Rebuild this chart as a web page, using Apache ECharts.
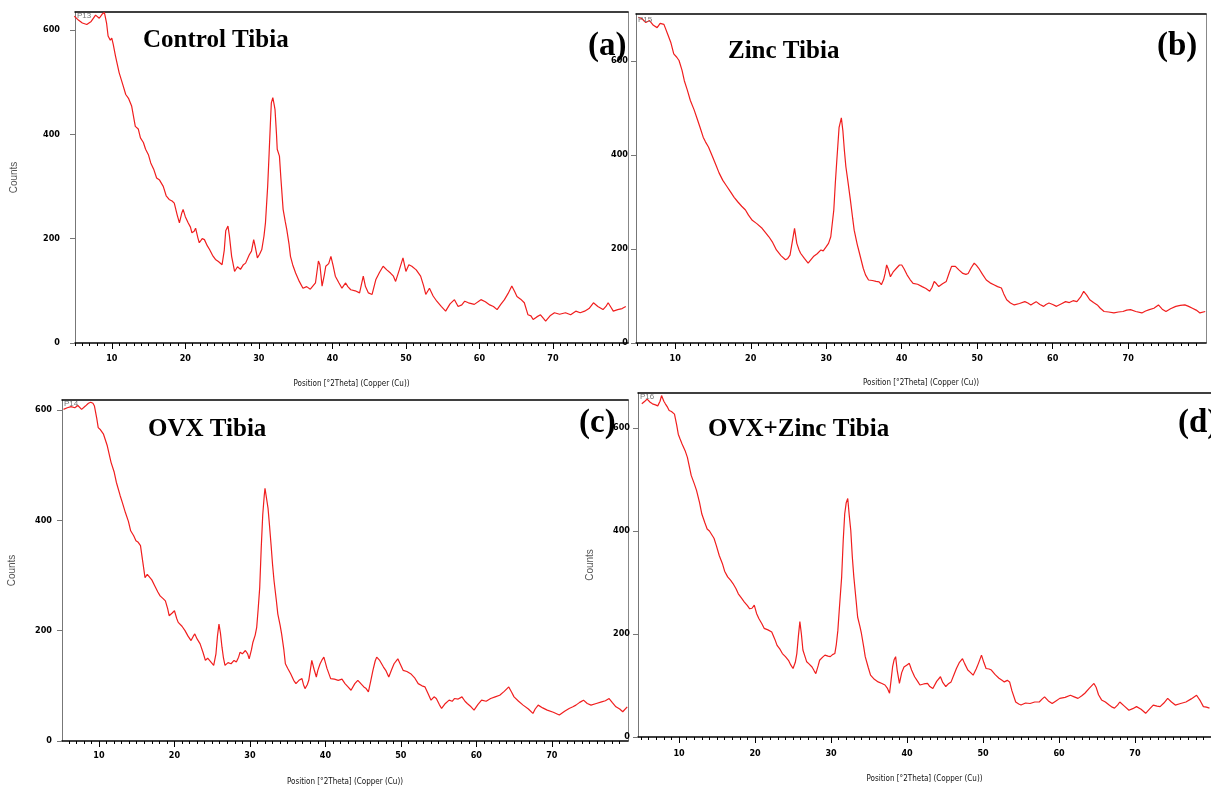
<!DOCTYPE html>
<html>
<head>
<meta charset="utf-8">
<script src="https://cdn.jsdelivr.net/npm/echarts@6.0.0/dist/echarts.min.js"></script>
<style>
html,body{margin:0;padding:0;background:#fff;}
#chart{width:1211px;height:787px;}
</style>
</head>
<body>
<div id="chart"></div>
<script>
// ---- Data (2Theta position, counts) ----
const controlTibia = [[4.9,626],[5.5,618],[6.0,613],[6.6,610],[7.2,616],[7.8,628],[8.3,622],[8.7,630],[9.0,633],[9.3,612],[9.5,588],[9.8,580],[10.0,584],[10.2,572],[10.5,550],[11.0,518],[11.5,495],[11.9,476],[12.3,468],[12.7,454],[13.2,415],[13.6,410],[13.9,393],[14.3,384],[14.6,371],[15.0,360],[15.3,345],[15.7,333],[16.1,316],[16.5,312],[17.0,300],[17.4,282],[17.8,275],[18.2,272],[18.5,268],[18.9,245],[19.2,230],[19.5,248],[19.7,256],[20.0,242],[20.4,230],[20.7,222],[20.9,211],[21.2,214],[21.4,220],[21.7,202],[21.9,192],[22.3,200],[22.6,198],[23.0,186],[23.3,179],[23.7,168],[24.1,160],[24.5,156],[25.0,150],[25.3,178],[25.5,215],[25.8,224],[26.0,205],[26.3,166],[26.7,137],[27.1,146],[27.5,141],[27.9,150],[28.2,153],[28.7,169],[29.0,176],[29.3,198],[29.5,185],[29.8,163],[30.1,170],[30.4,179],[30.7,205],[30.9,230],[31.2,300],[31.4,364],[31.6,430],[31.7,460],[31.9,470],[32.1,455],[32.2,447],[32.4,400],[32.5,371],[32.8,358],[33.0,315],[33.3,256],[33.6,232],[33.8,217],[34.1,190],[34.3,166],[34.6,150],[35.0,134],[35.5,118],[36.0,105],[36.5,108],[37.0,103],[37.2,105],[37.7,115],[38.1,157],[38.3,150],[38.6,109],[38.9,130],[39.1,147],[39.5,152],[39.8,166],[40.1,148],[40.4,128],[40.9,115],[41.3,105],[41.8,115],[42.1,108],[42.5,102],[43.1,100],[43.7,96],[44.2,128],[44.5,108],[44.9,96],[45.4,93],[45.9,121],[46.4,135],[46.9,147],[47.4,140],[47.9,134],[48.3,128],[48.6,118],[49.1,140],[49.6,163],[50.0,137],[50.4,150],[50.8,147],[51.4,140],[52.0,128],[52.4,110],[52.7,93],[53.2,105],[53.7,90],[54.2,80],[54.8,70],[55.4,61],[56.0,75],[56.6,83],[57.1,70],[57.6,73],[58.0,80],[58.5,77],[59.3,74],[60.2,83],[60.8,79],[61.4,73],[61.9,70],[62.4,64],[62.9,74],[63.4,83],[63.9,95],[64.4,109],[64.8,98],[65.1,89],[65.6,84],[66.1,77],[66.6,54],[67.0,52],[67.3,45],[67.8,50],[68.3,54],[68.7,47],[69.0,42],[69.6,52],[70.2,58],[70.9,55],[71.7,58],[72.4,54],[73.1,61],[73.7,58],[74.3,61],[74.9,66],[75.5,77],[76.1,70],[76.8,64],[77.2,70],[77.5,77],[77.9,68],[78.2,61],[78.8,64],[79.4,66],[79.9,70]];

const zincTibia = [[5.1,693],[5.6,690],[6.1,682],[6.6,686],[7.1,676],[7.6,671],[8.0,680],[8.5,678],[9.0,657],[9.4,640],[9.8,615],[10.2,608],[10.5,601],[10.9,580],[11.2,558],[11.6,538],[12.0,516],[12.5,496],[12.9,477],[13.3,458],[13.7,438],[14.0,428],[14.4,417],[14.9,398],[15.4,378],[15.8,362],[16.3,346],[16.8,334],[17.3,322],[17.8,310],[18.3,300],[18.8,291],[19.3,283],[19.7,272],[20.2,261],[20.8,254],[21.5,244],[21.9,236],[22.4,226],[22.9,214],[23.4,198],[24.0,186],[24.6,177],[24.9,180],[25.2,187],[25.5,215],[25.8,244],[26.1,212],[26.4,198],[26.6,191],[27.1,180],[27.6,170],[28.0,178],[28.3,184],[28.8,190],[29.3,198],[29.6,196],[30.0,205],[30.3,212],[30.6,226],[31.0,283],[31.2,340],[31.4,389],[31.7,459],[32.0,479],[32.2,452],[32.4,410],[32.6,375],[32.9,340],[33.2,304],[33.5,265],[33.7,240],[34.1,210],[34.4,191],[34.9,159],[35.2,145],[35.6,134],[36.1,133],[36.6,131],[37.0,130],[37.3,124],[37.6,135],[37.8,148],[38.0,166],[38.2,158],[38.5,141],[38.9,152],[39.3,159],[39.7,166],[40.0,166],[40.3,158],[40.7,145],[41.1,135],[41.5,127],[42.1,125],[42.7,120],[43.2,116],[43.7,110],[44.0,118],[44.3,131],[44.6,126],[44.9,120],[45.4,126],[45.9,131],[46.3,150],[46.6,163],[47.1,163],[47.6,155],[48.1,148],[48.5,146],[48.8,148],[49.2,160],[49.6,170],[49.9,165],[50.2,159],[50.7,146],[51.2,134],[51.7,128],[52.2,124],[52.7,120],[53.2,117],[53.5,105],[53.9,92],[54.4,85],[54.9,81],[55.6,84],[56.3,88],[56.7,85],[57.1,81],[57.4,84],[57.8,88],[58.3,82],[58.8,78],[59.1,82],[59.5,85],[60.0,82],[60.5,78],[61.1,83],[61.7,88],[62.2,86],[62.7,90],[63.2,88],[63.7,98],[64.1,110],[64.5,102],[64.9,92],[65.4,86],[65.9,81],[66.3,74],[66.8,67],[67.4,66],[68.1,64],[68.7,66],[69.3,67],[69.8,70],[70.3,71],[71.0,67],[71.8,64],[72.3,68],[72.8,71],[73.4,74],[74.0,81],[74.5,72],[75.0,67],[75.6,73],[76.3,78],[76.9,80],[77.5,81],[78.0,78],[78.5,74],[79.0,70],[79.5,64],[80.2,67]];

const ovxTibia = [[5.3,601],[5.8,604],[6.3,606],[6.8,604],[7.2,608],[7.7,601],[8.2,607],[8.6,612],[8.9,614],[9.2,612],[9.4,607],[9.7,585],[9.9,568],[10.2,564],[10.6,556],[11.1,535],[11.6,505],[12.0,488],[12.3,469],[12.8,445],[13.1,432],[13.5,414],[13.9,398],[14.2,381],[14.6,372],[14.9,363],[15.2,360],[15.5,354],[15.8,325],[16.1,296],[16.4,302],[16.6,305],[17.0,292],[17.4,281],[17.8,270],[18.1,263],[18.5,258],[18.8,254],[19.1,240],[19.3,227],[19.7,232],[20.0,236],[20.3,222],[20.5,215],[21.0,208],[21.4,200],[21.8,190],[22.2,182],[22.5,190],[22.7,194],[23.0,185],[23.4,176],[23.8,160],[24.1,146],[24.4,150],[24.6,152],[24.9,142],[25.2,137],[25.5,158],[25.7,190],[25.9,212],[26.1,195],[26.3,170],[26.5,150],[26.7,137],[27.1,142],[27.5,140],[27.9,146],[28.2,143],[28.5,152],[28.7,161],[29.0,158],[29.4,164],[29.7,158],[29.9,149],[30.2,165],[30.4,179],[30.7,192],[30.9,206],[31.1,240],[31.3,278],[31.5,350],[31.7,410],[31.9,445],[32.0,458],[32.2,440],[32.4,422],[32.6,390],[32.8,356],[33.0,320],[33.2,290],[33.5,255],[33.7,230],[34.0,210],[34.2,194],[34.5,165],[34.7,140],[35.0,132],[35.4,122],[35.8,110],[36.1,104],[36.5,110],[36.9,113],[37.1,102],[37.3,95],[37.6,102],[37.8,110],[38.0,128],[38.2,146],[38.5,130],[38.8,116],[39.0,128],[39.3,140],[39.6,148],[39.8,152],[40.2,132],[40.7,113],[41.2,112],[41.7,110],[42.2,112],[42.6,104],[43.0,98],[43.4,92],[43.9,104],[44.3,110],[44.7,104],[45.1,98],[45.4,95],[45.7,89],[46.0,108],[46.3,128],[46.6,145],[46.8,152],[47.2,146],[47.7,134],[48.0,128],[48.4,116],[48.8,130],[49.1,140],[49.6,149],[49.9,140],[50.3,128],[50.8,126],[51.3,122],[51.8,115],[52.3,104],[52.8,100],[53.2,98],[53.6,86],[54.0,74],[54.4,80],[54.7,77],[55.1,66],[55.4,59],[55.9,68],[56.4,74],[56.8,72],[57.1,77],[57.6,76],[58.1,80],[58.5,72],[58.8,68],[59.3,62],[59.7,56],[60.2,66],[60.7,74],[61.3,72],[61.9,77],[62.5,80],[63.1,83],[63.7,90],[64.3,98],[64.7,88],[65.0,80],[65.6,72],[66.2,65],[66.9,58],[67.5,50],[67.8,58],[68.2,65],[68.8,60],[69.4,56],[70.2,52],[71.0,47],[71.7,54],[72.3,59],[72.8,62],[73.2,65],[73.7,70],[74.2,74],[74.7,68],[75.2,65],[75.9,68],[76.6,71],[77.1,73],[77.6,77],[78.0,70],[78.5,62],[79.0,58],[79.4,53],[80.0,62]];

const ovxZincTibia = [[5.1,647],[5.5,652],[5.8,656],[6.2,650],[6.5,647],[6.9,645],[7.2,643],[7.5,652],[7.7,663],[8.0,652],[8.2,647],[8.5,640],[8.7,634],[9.0,632],[9.4,627],[9.7,605],[9.9,588],[10.1,580],[10.4,569],[10.8,556],[11.1,543],[11.4,522],[11.6,508],[12.0,492],[12.3,479],[12.7,455],[13.0,433],[13.4,416],[13.7,404],[14.0,400],[14.2,398],[14.6,386],[14.9,372],[15.3,352],[15.7,337],[16.0,322],[16.4,311],[16.8,304],[17.1,298],[17.5,288],[17.8,278],[18.2,270],[18.6,262],[19.0,255],[19.3,249],[19.6,250],[19.9,256],[20.2,240],[20.5,230],[20.9,220],[21.2,211],[21.7,208],[22.2,204],[22.6,190],[22.9,178],[23.3,170],[23.6,162],[24.0,156],[24.4,149],[24.7,140],[25.0,133],[25.3,145],[25.5,162],[25.7,195],[25.9,224],[26.1,200],[26.3,169],[26.6,155],[26.8,146],[27.1,142],[27.5,136],[27.8,128],[28.0,123],[28.3,138],[28.5,149],[28.9,155],[29.2,159],[29.6,157],[29.9,156],[30.2,160],[30.5,162],[30.7,180],[30.9,207],[31.1,250],[31.4,311],[31.6,380],[31.8,433],[32.0,455],[32.2,463],[32.4,430],[32.6,401],[32.8,350],[33.0,311],[33.3,265],[33.5,233],[33.8,215],[34.0,201],[34.3,175],[34.5,156],[34.9,135],[35.2,120],[35.7,112],[36.2,107],[36.7,104],[37.1,101],[37.4,95],[37.7,85],[37.9,110],[38.1,136],[38.3,150],[38.5,156],[38.7,130],[39.0,104],[39.3,125],[39.6,136],[40.0,140],[40.3,143],[40.6,130],[41.0,117],[41.4,108],[41.7,101],[42.2,103],[42.7,104],[43.0,98],[43.4,94],[43.9,108],[44.4,117],[44.7,106],[45.1,98],[45.5,104],[45.8,107],[46.2,122],[46.5,133],[46.9,145],[47.3,152],[47.6,142],[48.0,130],[48.3,126],[48.7,120],[49.1,132],[49.4,143],[49.8,159],[50.1,145],[50.4,133],[50.8,132],[51.1,130],[51.6,121],[52.1,114],[52.5,110],[52.8,107],[53.2,110],[53.5,107],[53.8,90],[54.3,68],[54.7,64],[55.0,62],[55.6,66],[56.2,65],[56.8,68],[57.4,68],[57.8,74],[58.1,78],[58.6,70],[59.1,65],[59.6,70],[60.1,75],[60.8,77],[61.5,81],[62.0,78],[62.5,75],[63.0,80],[63.4,85],[64.0,95],[64.6,104],[64.9,96],[65.2,82],[65.6,72],[66.1,68],[66.6,62],[67.0,58],[67.3,56],[67.7,62],[68.0,68],[68.6,60],[69.2,52],[69.7,55],[70.2,59],[70.8,54],[71.4,46],[71.9,54],[72.4,62],[72.9,60],[73.3,59],[73.8,66],[74.3,75],[74.8,68],[75.3,62],[76.0,65],[76.7,68],[77.4,74],[78.1,81],[78.6,70],[79.0,59],[79.4,58],[79.8,56]];

const xTickValues = [10, 20, 30, 40, 50, 60, 70];
const yTickValues = [0, 200, 400, 600];
const panelTitles = ['Control Tibia', 'Zinc Tibia', 'OVX Tibia', 'OVX+Zinc Tibia'];
const panelLetters = ['(a)', '(b)', '(c)', '(d)'];
const scanLabels = ['P13', 'P15', 'P14', 'P16'];
const xAxisName = 'Position [°2Theta] (Copper (Cu))';
const yAxisName = 'Counts';

// ---- Layout ----
const panels = [
  {data: controlTibia, left: 75, top: 12, width: 553, height: 331, xMin: 5.0, xMax: 80.2, yMax: 634, yLabelMargin: 15, xLabelMargin: 11, nameGap: 37, yNameGap: 56, showYName: true,
   title: {x: 143, y: 43}, letter: {x: 588, y: 49}, scan: {x: 77, y: 17}},
  {data: zincTibia, left: 636, top: 14, width: 570, height: 329, xMin: 4.8, xMax: 80.3, yMax: 700, yLabelMargin: 8, xLabelMargin: 11, nameGap: 36, yNameGap: 40, showYName: false,
   title: {x: 728, y: 54}, letter: {x: 1157, y: 49}, scan: {x: 638, y: 21}},
  {data: ovxTibia, left: 62, top: 400, width: 566, height: 342, xMin: 5.1, xMax: 80.1, yMax: 618, yLabelMargin: 10, xLabelMargin: 10, nameGap: 37, yNameGap: 45, showYName: true,
   title: {x: 148, y: 432}, letter: {x: 579, y: 426}, scan: {x: 64, y: 405}},
  {data: ovxZincTibia, left: 638, top: 393, width: 573, height: 344, xMin: 4.6, xMax: 80.0, yMax: 668, yLabelMargin: 8, xLabelMargin: 12, nameGap: 38, yNameGap: 43, showYName: true,
   title: {x: 708, y: 432}, letter: {x: 1178, y: 426}, scan: {x: 640, y: 398}}
];

const minorTicks = [];
for (let v = 5; v <= 80; v++) { if (v % 10 !== 0) minorTicks.push(v); }

const narrow = '"Liberation Sans Narrow", "Arial Narrow", "DejaVu Sans Condensed", "Liberation Sans", Arial, sans-serif';

const grid = [], xAxis = [], yAxis = [], series = [], graphic = [];
panels.forEach((p, i) => {
  grid.push({left: p.left, top: p.top, width: p.width, height: p.height, show: false, containLabel: false});
  xAxis.push({
    type: 'value', gridIndex: i, min: p.xMin, max: p.xMax, position: 'bottom',
    name: xAxisName, nameLocation: 'middle', nameGap: p.nameGap,
    nameTextStyle: {fontFamily: narrow, fontSize: 8, color: '#111'},
    axisLine: {show: true, onZero: false, lineStyle: {color: '#000', width: 1.5}},
    axisTick: {show: true, inside: false, length: 6, customValues: xTickValues, lineStyle: {color: '#000', width: 1}},
    axisLabel: {show: true, margin: p.xLabelMargin, customValues: xTickValues, fontFamily: narrow, fontSize: 9, fontWeight: 'bold', color: '#000'},
    splitLine: {show: false}, minorTick: {show: false}
  });
  xAxis.push({
    type: 'value', gridIndex: i, min: p.xMin, max: p.xMax, position: 'bottom',
    axisLine: {show: false},
    axisTick: {show: true, inside: false, length: 3, customValues: minorTicks, lineStyle: {color: '#000', width: 1}},
    axisLabel: {show: false}, splitLine: {show: false}
  });
  xAxis.push({
    type: 'value', gridIndex: i, min: p.xMin, max: p.xMax, position: 'top',
    axisLine: {show: true, onZero: false, lineStyle: {color: '#000', width: 1.5}},
    axisTick: {show: false}, axisLabel: {show: false}, splitLine: {show: false}
  });
  yAxis.push({
    type: 'value', gridIndex: i, min: 0, max: p.yMax, position: 'left',
    name: p.showYName ? yAxisName : '', nameLocation: 'middle', nameGap: p.yNameGap, nameRotate: 90,
    nameTextStyle: {fontFamily: '"Liberation Sans", Arial, sans-serif', fontSize: 10, color: '#555'},
    axisLine: {show: true, onZero: false, lineStyle: {color: '#777', width: 1}},
    axisTick: {show: true, inside: false, length: 5, customValues: yTickValues, lineStyle: {color: '#777', width: 1}},
    axisLabel: {show: true, margin: p.yLabelMargin, customValues: yTickValues, fontFamily: narrow, fontSize: 9, fontWeight: 'bold', color: '#000'},
    splitLine: {show: false}
  });
  yAxis.push({
    type: 'value', gridIndex: i, min: 0, max: p.yMax, position: 'right',
    axisLine: {show: true, onZero: false, lineStyle: {color: '#888', width: 1}},
    axisTick: {show: false}, axisLabel: {show: false}, splitLine: {show: false}
  });
  series.push({
    type: 'line', xAxisIndex: i * 3, yAxisIndex: i * 2, data: p.data,
    showSymbol: false, symbol: 'none', smooth: false, clip: true,
    lineStyle: {color: '#f01e1e', width: 1.2}, z: 3
  });
  graphic.push({type: 'text', left: p.title.x, top: p.title.y - 15, z: 10,
    style: {text: panelTitles[i], font: 'bold 25px "Liberation Serif", "Times New Roman", serif', fill: '#000'}});
  graphic.push({type: 'text', left: p.letter.x, top: p.letter.y - 19, z: 10,
    style: {text: panelLetters[i], font: 'bold 33px "Liberation Serif", "Times New Roman", serif', fill: '#000'}});
  graphic.push({type: 'text', left: p.scan.x, top: p.scan.y - 5, z: 10,
    style: {text: scanLabels[i], font: '8px "Liberation Sans", Arial, sans-serif', fill: '#777'}});
});

const chart = echarts.init(document.getElementById('chart'), null, {renderer: 'canvas'});
chart.setOption({
  backgroundColor: '#fff',
  animation: false,
  grid, xAxis, yAxis, series, graphic
});
</script>
</body>
</html>
